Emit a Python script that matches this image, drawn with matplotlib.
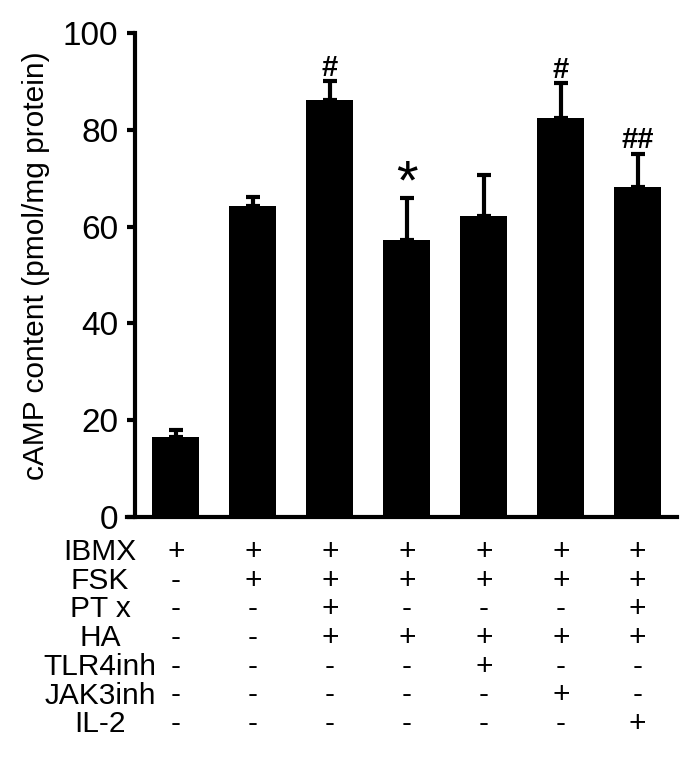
import matplotlib
matplotlib.use("Agg")
import matplotlib.pyplot as plt
import matplotlib.transforms as mtransforms

plt.rcParams['font.family'] = ['Liberation Sans', 'DejaVu Sans']

means = [16.5, 64.2, 86.1, 57.2, 62.2, 82.5, 68.1]
errs = [1.5, 2.0, 3.9, 8.8, 8.5, 7.1, 6.9]
marks = ['', '', '#', '*', '', '#', '##']

rows = ['IBMX', 'FSK', 'PT x', 'HA', 'TLR4inh', 'JAK3inh', 'IL-2']
signs = [
    ['+', '+', '+', '+', '+', '+', '+'],
    ['-', '+', '+', '+', '+', '+', '+'],
    ['-', '-', '+', '-', '-', '-', '+'],
    ['-', '-', '+', '+', '+', '+', '+'],
    ['-', '-', '-', '-', '+', '-', '-'],
    ['-', '-', '-', '-', '-', '+', '-'],
    ['-', '-', '-', '-', '-', '-', '+'],
]

W, H = 691, 757
fig = plt.figure(figsize=(W / 100, H / 100), dpi=100)
ax = fig.add_axes([127 / W, 1 - 517 / H, (677 - 127) / W, (517 - 33) / H])

x = list(range(len(means)))
ax.bar(x, means, width=0.61, color='black')
ax.errorbar(x, means, yerr=[[0] * len(errs), errs], fmt='none', ecolor='black',
            elinewidth=3, capsize=5, capthick=3)

for xi, m, e, s in zip(x, means, errs, marks):
    if s == '*':
        ax.text(xi, m + e - 0.2, s, ha='center', va='baseline', fontsize=40)
    elif s:
        ax.text(xi, m + e + 1.2, s, ha='center', va='baseline', fontsize=21,
                fontweight='bold')

ax.set_xlim(-0.636, 6.51)
ax.set_ylim(0, 100)
ax.set_yticks([0, 20, 40, 60, 80, 100])
ax.set_xticks([])
ax.spines['top'].set_visible(False)
ax.spines['right'].set_visible(False)
ax.spines['left'].set_position(('data', -0.53))
ax.spines['left'].set_linewidth(3)
ax.spines['bottom'].set_linewidth(3)
ax.tick_params(axis='y', direction='out', length=6, width=3, labelsize=24, pad=6)

fig.text(36 / W, 1 - 266 / H, 'cAMP content (pmol/mg protein)', rotation=90,
         ha='center', va='center', fontsize=21.5)

tr = mtransforms.blended_transform_factory(ax.transData, fig.transFigure)
for i, (name, row) in enumerate(zip(rows, signs)):
    yf = 1 - (552 + 28.7 * i) / H
    fig.text(100 / W, yf, name, ha='center', va='center', fontsize=21.5)
    for xi, s in zip(x, row):
        fig.text(xi, yf, s, transform=tr, ha='center', va='center', fontsize=21.5)

fig.savefig('out.png', dpi=100)
